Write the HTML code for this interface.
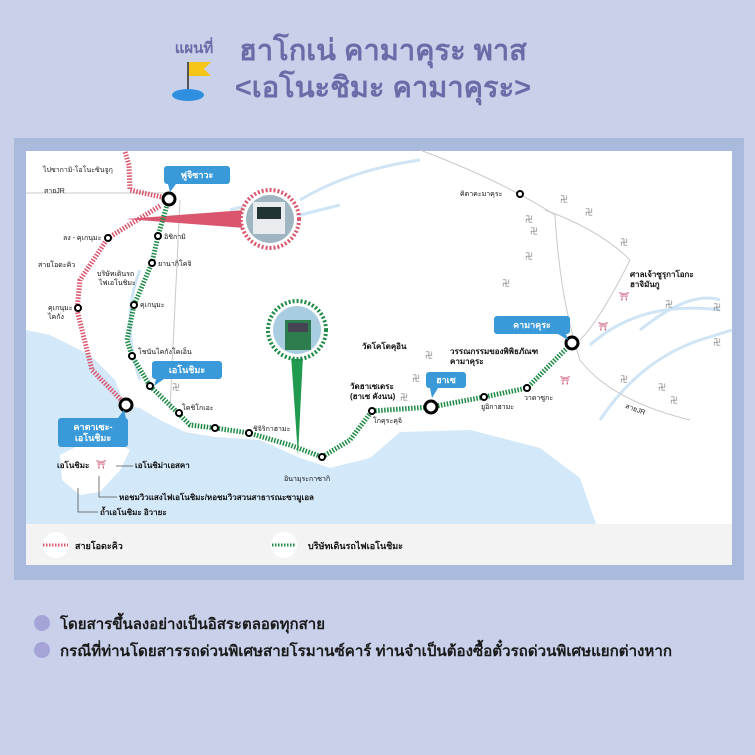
<!DOCTYPE html>
<html><head><meta charset="utf-8"><style>
html,body{margin:0;padding:0;width:755px;height:755px;overflow:hidden;background:#c9d0ea;font-family:"Liberation Sans","Noto Sans CJK SC",sans-serif}
</style></head><body>
<svg width="755" height="755" viewBox="0 0 755 755" xmlns="http://www.w3.org/2000/svg" font-family="Liberation Sans, Noto Sans CJK SC, sans-serif">
<rect width="755" height="755" fill="#c9d0ea"/>
<!-- title -->
<text x="194" y="53" font-size="15" font-weight="bold" fill="#6a6ca8" text-anchor="middle">แผนที่</text>
<line x1="188" y1="62" x2="188" y2="96" stroke="#555" stroke-width="2"/>
<path d="M189 62 L211 62 L204 69 L211 76 L189 76Z" fill="#f5c518"/>
<ellipse cx="188" cy="95" rx="16" ry="6" fill="#2e8fe0"/>
<text x="383" y="60" font-size="29" font-weight="bold" fill="#6a6ca8" text-anchor="middle">ฮาโกเน่ คามาคุระ พาส</text>
<text x="383" y="97" font-size="29" font-weight="bold" fill="#6a6ca8" text-anchor="middle">&lt;เอโนะชิมะ คามาคุระ&gt;</text>
<!-- frame -->
<rect x="14" y="138" width="730" height="442" fill="#aabadc"/>
<rect x="26" y="151" width="706" height="414" fill="#ffffff"/>
<!-- sea -->
<path d="M26 330 L50 335 L90 355 L115 380 L125 405 L140 408 L160 420 L185 432 L215 437 L260 440 L300 458 L330 468 L370 458 L400 432 L470 430 L540 448 L580 478 L596 524 L26 524Z" fill="#d3e8f8"/>
<path d="M60 455 L90 440 L100 428 L112 440 L130 450 L120 470 L100 492 L80 495 L62 480Z" fill="#fff"/>
<!-- rivers -->
<g fill="none" stroke="#cfe4f5" stroke-width="3">
<path d="M300 200 Q350 170 420 160"/><path d="M230 210 Q260 200 300 215 L340 205"/>
<path d="M140 270 Q120 320 140 380"/><path d="M600 420 Q640 360 700 340 L732 330"/>
<path d="M640 330 Q690 290 720 300"/><path d="M590 345 Q640 300 720 310"/>
</g>
<g fill="none" stroke="#c9c9c9" stroke-width="1">
<path d="M26 193 L165 193"/><path d="M420 150 Q500 180 555 215 Q560 300 580 360 Q610 400 690 420"/>
<path d="M545 210 Q600 230 630 260 Q600 320 580 340"/>
<path d="M180 200 Q175 300 170 410"/>
</g>
<text x="623" y="418" font-size="7" fill="#222" transform="rotate(20 653 418)">สายJR</text>
<text x="44" y="193" font-size="7" fill="#222">สายJR</text>
<text x="43" y="172" font-size="7" fill="#222">ไปซากามิ-โอโนะซินจูกุ</text>
<!-- wedges -->
<path d="M126 219 L245 210 L245 228Z" fill="#d9566e"/>
<path d="M291 355 L303 355 L298 456Z" fill="#1f9a4f"/>
<!-- red line -->
<path d="M125 152 L129 165 L130 190 L166 198 M160 206 L108 238 L80 280 L77 310 L92 370 L126 405" fill="none" stroke="#d9566e" stroke-width="5" stroke-dasharray="1.5 1.5"/>
<!-- green line -->
<path d="M169 198 L158 236 L152 263 L134 305 L127 340 L132 356 L150 386 L178 413 L190 425 L215 428 L249 433 L290 445 L322 457 L350 440 L372 411 L431 407 L484 397 L527 388 L572 343" fill="none" stroke="#1f8a47" stroke-width="5" stroke-dasharray="1.5 1.5"/>
<!-- photo circles -->
<circle cx="270" cy="219" r="29" fill="#fff" stroke="#d9566e" stroke-width="4" stroke-dasharray="2 2"/>
<circle cx="270" cy="219" r="24" fill="#9fb6c2"/><rect x="253" y="202" width="32" height="32" fill="#e8ecef"/><rect x="257" y="207" width="24" height="12" fill="#233"/>
<circle cx="297" cy="330" r="29" fill="#fff" stroke="#1f8a47" stroke-width="4" stroke-dasharray="2 2"/>
<circle cx="297" cy="330" r="24" fill="#a8cde0"/><rect x="285" y="320" width="26" height="30" fill="#2e7d4f"/><rect x="288" y="323" width="20" height="9" fill="#445"/>
<!-- stations -->
<g fill="#fff" stroke="#000" stroke-width="2">
<circle cx="108" cy="238" r="3"/><circle cx="78" cy="308" r="3"/>
<circle cx="158" cy="236" r="3"/><circle cx="152" cy="263" r="3"/><circle cx="134" cy="305" r="3"/><circle cx="132" cy="356" r="3"/><circle cx="150" cy="386" r="3"/><circle cx="179" cy="413" r="3"/><circle cx="215" cy="428" r="3"/><circle cx="249" cy="433" r="3"/><circle cx="322" cy="457" r="3"/><circle cx="372" cy="411" r="3"/><circle cx="484" cy="397" r="3"/><circle cx="527" cy="388" r="3"/><circle cx="520" cy="194" r="3"/>
</g>
<g fill="#fff" stroke="#000" stroke-width="3">
<circle cx="169" cy="199" r="6"/><circle cx="126" cy="405" r="6"/><circle cx="431" cy="407" r="6"/><circle cx="572" cy="343" r="6"/>
</g>
<!-- callouts -->
<g fill="#3a9ad9">
<rect x="164" y="166" width="66" height="18" rx="3"/><path d="M168 184 L176 184 L170 192Z"/>
<rect x="152" y="361" width="70" height="18" rx="3"/><path d="M156 379 L164 379 L154 386Z"/>
<rect x="58" y="418" width="70" height="29" rx="3"/><path d="M118 418 L126 418 L124 410Z"/>
<rect x="426" y="372" width="40" height="16" rx="3"/><path d="M430 388 L438 388 L432 398Z"/>
<rect x="494" y="316" width="76" height="18" rx="3"/><path d="M558 334 L566 334 L568 340Z"/>
</g>
<g fill="#fff" font-size="9" font-weight="bold" text-anchor="middle">
<text x="197" y="178">ฟูจิซาวะ</text><text x="187" y="373">เอโนชิมะ</text>
<text x="93" y="430">คาตาเซะ-</text><text x="93" y="441">เอโนชิมะ</text>
<text x="446" y="383">ฮาเซ</text><text x="532" y="328">คามาคุระ</text>
</g>
<g font-size="7" fill="#111">
<text x="63" y="240">ลง - คุเกนุมะ</text><text x="38" y="267">สายโอดะคิว</text>
<text x="48" y="310">คุเกนุมะ</text><text x="48" y="319">ไคกัง</text>
<text x="164" y="239">อิชิกามิ</text><text x="158" y="266">ยานากิโคจิ</text>
<text x="97" y="276">บริษัทเดินรถ</text><text x="99" y="285">ไฟเอโนชิมะ</text>
<text x="140" y="307">คุเกนุมะ</text><text x="138" y="354">โชนันไคกังโคเอ็น</text>
<text x="182" y="410">โคชิโกเอะ</text><text x="253" y="431">ชิจิริกาฮามะ</text>
<text x="284" y="481">อินามุระกาซากิ</text><text x="373" y="423">โกคุระคุจิ</text>
<text x="481" y="409">ยูอิกาฮามะ</text><text x="524" y="400">วาดาซูกะ</text>
<text x="460" y="196">คิตาคะมาคุระ</text>
</g>
<g font-size="8" font-weight="bold" fill="#111">
<text x="362" y="349">วัดโคโตคุอิน</text>
<text x="350" y="389">วัดฮาเซเดระ</text><text x="350" y="399">(ฮาเซ คังนน)</text>
<text x="450" y="354">วรรณกรรมของพิพิธภัณฑ</text><text x="450" y="364">คามาคุระ</text>
<text x="630" y="277">ศาลเจ้าซูรุกาโอกะ</text><text x="630" y="287">ฮาจิมันกู</text>
<text x="57" y="468">เอโนชิมะ</text>
<text x="135" y="468">เอโนชิม่าเอสคา</text>
<text x="119" y="500">หอชมวิวแสงไฟเอโนชิมะ/หอชมวิวสวนสาธารณะซามูเอล</text>
<text x="100" y="515">ถ้ำเอโนชิมะ อิวายะ</text>
</g>
<g stroke="#555" stroke-width="0.8" fill="none"><path d="M116 466 L133 466"/><path d="M99 476 L99 497 L117 497"/><path d="M78 488 L78 512 L98 512"/></g>
<g font-size="8" fill="#777"><text x="560" y="202">卍</text><text x="585" y="215">卍</text><text x="525" y="222">卍</text><text x="530" y="234">卍</text><text x="620" y="245">卍</text><text x="525" y="259">卍</text><text x="502" y="286">卍</text><text x="665" y="307">卍</text><text x="713" y="310">卍</text><text x="713" y="345">卍</text><text x="620" y="382">卍</text><text x="658" y="390">卍</text><text x="670" y="403">卍</text><text x="425" y="358">卍</text><text x="412" y="381">卍</text><text x="400" y="400">卍</text><text x="172" y="390">卍</text></g>
<g fill="#c2375a" font-size="8"><text x="619" y="299">⛩</text><text x="598" y="329">⛩</text><text x="560" y="383">⛩</text><text x="96" y="467">⛩</text></g>
<!-- legend -->
<rect x="26" y="524" width="706" height="41" fill="#f3f3f3"/>
<circle cx="56" cy="545" r="13" fill="#fff"/><line x1="43" y1="545" x2="68" y2="545" stroke="#d9566e" stroke-width="3" stroke-dasharray="1.5 1.5"/>
<text x="75" y="549" font-size="9" font-weight="bold" fill="#111">สายโอดะคิว</text>
<circle cx="284" cy="545" r="13" fill="#fff"/><line x1="272" y1="545" x2="296" y2="545" stroke="#1f8a47" stroke-width="3" stroke-dasharray="1.5 1.5"/>
<text x="308" y="549" font-size="9" font-weight="bold" fill="#111">บริษัทเดินรถไฟเอโนชิมะ</text>
<!-- notes -->
<circle cx="42" cy="623" r="8" fill="#a4a4d6"/><circle cx="42" cy="650" r="8" fill="#a4a4d6"/>
<text x="60" y="629" font-size="15" font-weight="bold" fill="#1a1a1a">โดยสารขึ้นลงอย่างเป็นอิสระตลอดทุกสาย</text>
<text x="60" y="656" font-size="15" font-weight="bold" fill="#1a1a1a" textLength="612" lengthAdjust="spacingAndGlyphs">กรณีที่ท่านโดยสารรถด่วนพิเศษสายโรมานซ์คาร์ ท่านจำเป็นต้องซื้อตั๋วรถด่วนพิเศษแยกต่างหาก</text>
</svg>
</body></html>
